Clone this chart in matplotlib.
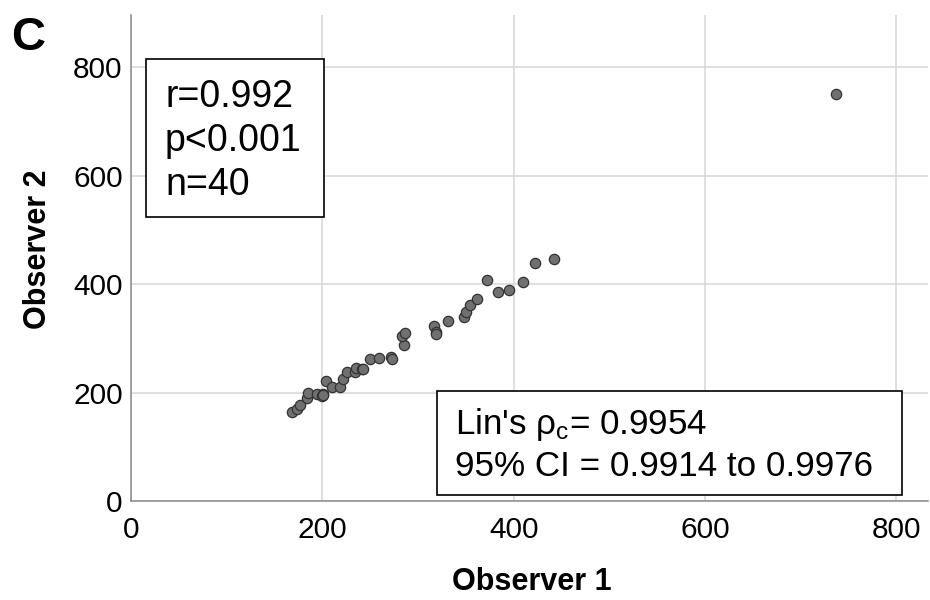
import matplotlib
matplotlib.use("Agg")
import matplotlib.pyplot as plt
from matplotlib.patches import Rectangle

plt.rcParams["font.family"] = ["Liberation Sans", "DejaVu Sans"]
plt.rcParams["mathtext.fontset"] = "custom"
plt.rcParams["mathtext.rm"] = "Liberation Sans"
plt.rcParams["mathtext.it"] = "Liberation Sans"

obs1 = [168, 173, 177, 184, 185, 194, 200, 201, 201, 204, 210, 218, 222, 226, 234,
        235, 241, 242, 250, 259, 272, 273, 285, 283, 286, 317, 319, 319, 331, 348,
        350, 354, 362, 372, 384, 395, 410, 422, 442, 737]
obs2 = [164, 170, 177, 189, 199, 197, 194, 197, 195, 221, 211, 211, 225, 238, 237,
        246, 243, 244, 262, 264, 266, 262, 288, 304, 310, 323, 312, 307, 332, 339,
        348, 361, 373, 407, 385, 389, 404, 439, 447, 750]
ticks = [0, 200, 400, 600, 800]
stats_left = ["r=0.992", "p<0.001", "n=40"]
stats_right = [r"Lin's ρ$_{c}$= 0.9954", "95% CI = 0.9914 to 0.9976"]

fig = plt.figure(figsize=(9.3, 6.0), dpi=100)
ax = fig.add_axes([131 / 930, 99 / 600, 797 / 930, 486 / 600])

ax.scatter(obs1, obs2, s=55, facecolor="#707070", edgecolor="#333333",
           linewidth=0.9, zorder=3)

ax.set_xlim(0, 833)
ax.set_ylim(0, 896)
ax.set_xticks(ticks)
ax.set_yticks(ticks)
ax.grid(True, color="#d6d6d6", linewidth=1.1)
ax.set_axisbelow(True)
for side in ("top", "right"):
    ax.spines[side].set_visible(False)
for side in ("left", "bottom"):
    ax.spines[side].set_color("#8a8a8a")
    ax.spines[side].set_linewidth(1.1)
ax.tick_params(axis="both", length=0, labelsize=21.5, colors="#000000")
ax.tick_params(axis="x", pad=11)
ax.tick_params(axis="y", pad=6)

ax.set_xlabel("Observer 1", fontsize=22, fontweight="bold")
ax.set_ylabel("Observer 2", fontsize=22, fontweight="bold")
ax.xaxis.set_label_coords(0.503, -0.167)
ax.yaxis.set_label_coords(-0.117, 0.518)
ax.xaxis.label.set_va("center")
ax.yaxis.label.set_va("center")


def px(x, y):
    return x / 930, 1 - y / 600


fig.text(*px(11, 50), "C", fontsize=34, fontweight="bold", va="baseline")

# left stats box
x0, y0 = px(146, 217)
fig.patches.append(Rectangle((x0, y0), 178 / 930, 158 / 600, transform=fig.transFigure,
                             facecolor="white", edgecolor="black", linewidth=1.2, zorder=5))
for i, t in enumerate(stats_left):
    fig.text(*px(165, 107 + 44 * i), t, fontsize=27, va="baseline", zorder=6)

# right stats box
x0, y0 = px(437, 495)
fig.patches.append(Rectangle((x0, y0), 465 / 930, 104 / 600, transform=fig.transFigure,
                             facecolor="white", edgecolor="black", linewidth=1.2, zorder=5))
for i, t in enumerate(stats_right):
    fig.text(*px(455, 434 + 42.5 * i), t, fontsize=25.2, va="baseline", zorder=6)

fig.savefig("out.png", dpi=100)
